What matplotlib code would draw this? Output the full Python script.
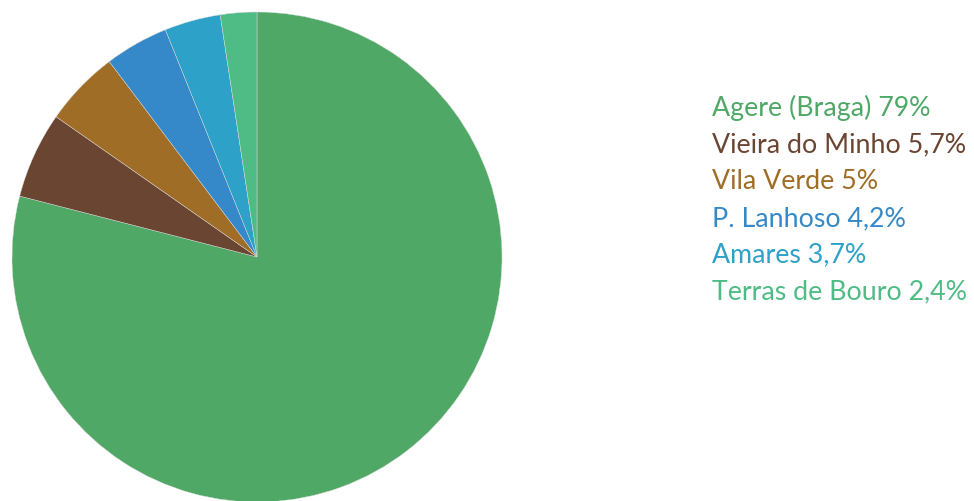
import matplotlib.pyplot as plt

labels = ["Agere (Braga)", "Vieira do Minho", "Vila Verde", "P. Lanhoso", "Amares", "Terras de Bouro"]
shares = [79, 5.7, 5, 4.2, 3.7, 2.4]
share_text = ["79%", "5,7%", "5%", "4,2%", "3,7%", "2,4%"]
colors = ["#4FA866", "#6A4532", "#A06D27", "#3589C8", "#2DA1C8", "#50BC85"]

W, H = 974, 501
fig = plt.figure(figsize=(W / 100, H / 100), dpi=100)

cx, cy, r = 257, 257, 245
ax = fig.add_axes([(cx - r) / W, (H - cy - r) / H, 2 * r / W, 2 * r / H])
ax.pie(shares, colors=colors, startangle=90, counterclock=False, radius=1,
       wedgeprops=dict(linewidth=0.3, edgecolor="#dddddd"))
ax.set_xlim(-1, 1)
ax.set_ylim(-1, 1)
ax.set_aspect("equal")
ax.axis("off")

# legend as coloured text lines
y0, step = 108, 36.8
for i, (lab, pct, c) in enumerate(zip(labels, share_text, colors)):
    fig.text(712 / W, 1 - (y0 + i * step) / H, f"{lab} {pct}", color=c,
             fontsize=19.3, family="Lato", va="center", ha="left")

fig.savefig("out.png", dpi=100)
